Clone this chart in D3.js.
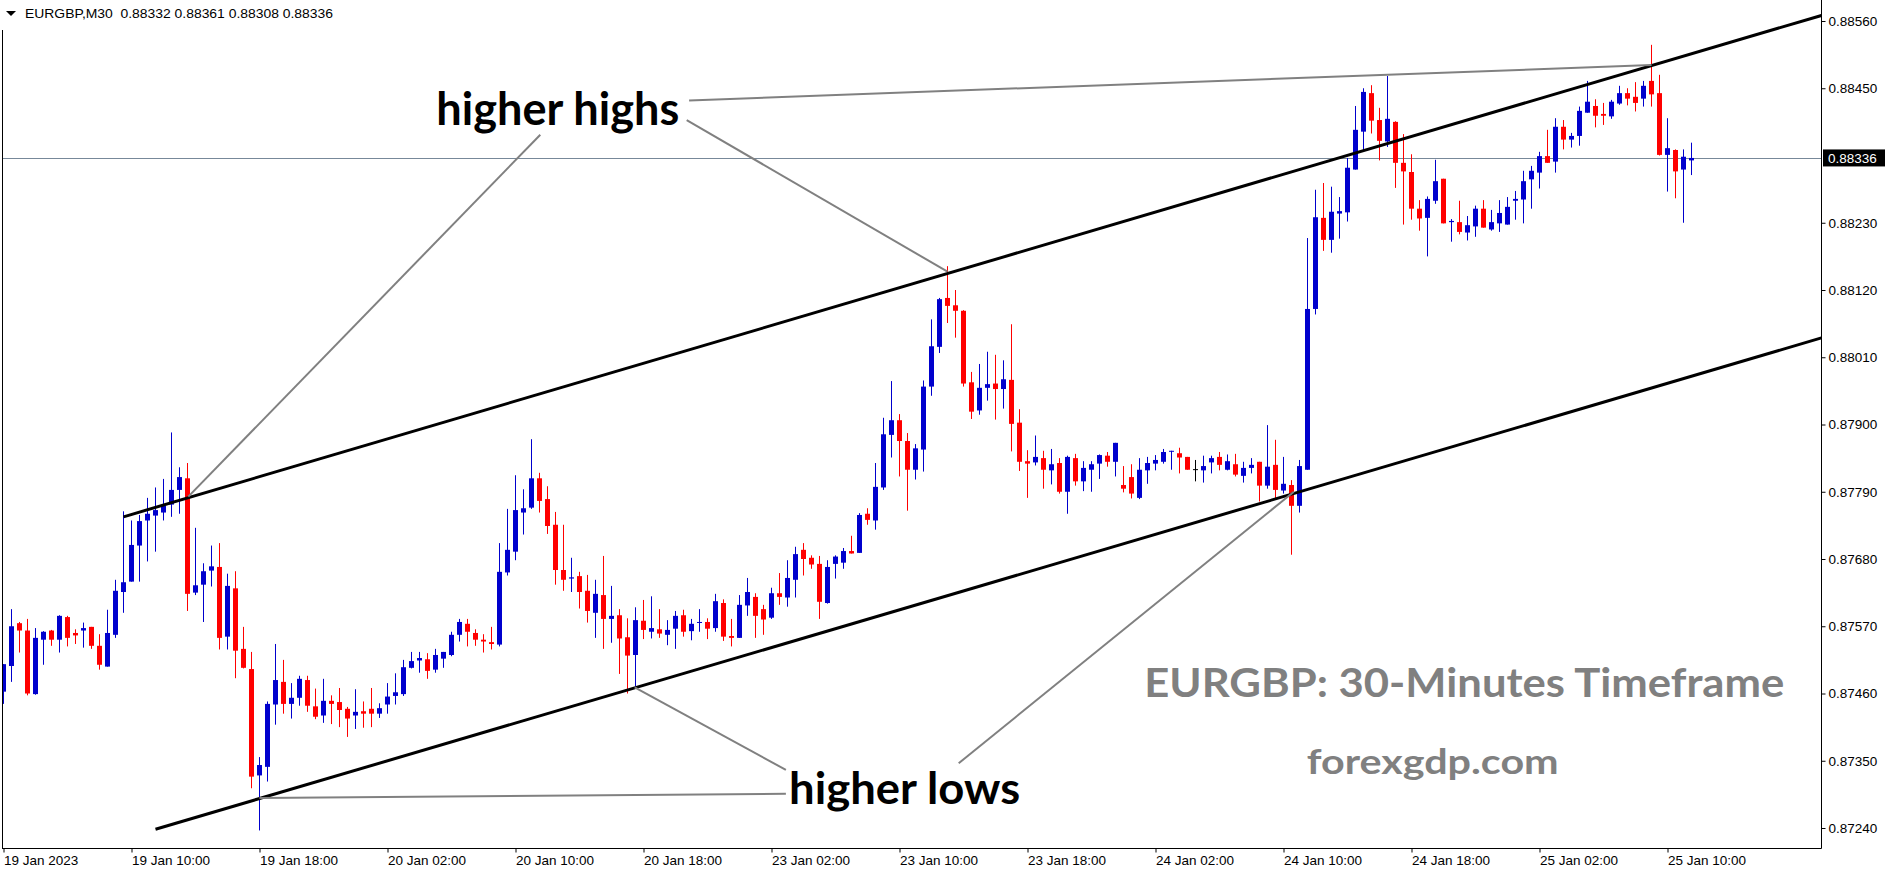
<!DOCTYPE html>
<html><head><meta charset="utf-8">
<script src="https://cdn.jsdelivr.net/npm/d3@7"></script>
<style>html,body{margin:0;padding:0;background:#fff;overflow:hidden}</style>
</head><body><svg id="c" width="1893" height="875"></svg>
<script>
// ---------- DATA ----------
const symbol = "EURGBP,M30";
const openP = [0.87463,0.87505,0.87575,0.87563,0.87459,0.87548,0.87563,0.87548,0.87585,0.87559,
0.87563,0.87569,0.87538,0.87504,0.87556,0.87626,0.87643,0.87702,0.87743,0.87751,
0.87756,0.87769,0.87793,0.87812,0.87625,0.87638,0.87661,0.87667,0.87553,0.87632,
0.87533,0.87500,0.87326,0.87340,0.87442,0.87479,0.87443,0.87453,0.87482,0.87439,
0.87424,0.87448,0.87446,0.87435,0.87424,0.87431,0.87435,0.87427,0.87442,0.87456,
0.87459,0.87502,0.87514,0.87516,0.87499,0.87517,0.87523,0.87556,0.87574,0.87559,
0.87548,0.87544,0.87540,0.87658,0.87692,0.87756,0.87764,0.87812,0.87778,0.87736,
0.87662,0.87648,0.87652,0.87628,0.87592,0.87621,0.87582,0.87588,0.87552,0.87523,
0.87579,0.87561,0.87565,0.87556,0.87566,0.87588,0.87562,0.87576,0.87577,0.87567,
0.87608,0.87554,0.87551,0.87604,0.87618,0.87598,0.87584,0.87624,0.87617,0.87646,
0.87695,0.87682,0.87672,0.87608,0.87672,0.87674,0.87693,0.87690,0.87754,0.87743,
0.87797,0.87883,0.87907,0.87873,0.87826,0.87859,0.87962,0.88027,0.88107,0.88095,
0.88086,0.87969,0.87923,0.87960,0.87967,0.87958,0.87973,0.87903,0.87840,0.87838,
0.87845,0.87825,0.87837,0.87790,0.87845,0.87807,0.87826,0.87836,0.87849,0.87839,
0.87801,0.87814,0.87780,0.87825,0.87836,0.87839,0.87856,0.87853,0.87847,0.87827,
0.87825,0.87838,0.87847,0.87826,0.87835,0.87816,0.87829,0.87839,0.87800,0.87834,
0.87792,0.87801,0.87767,0.87826,0.88089,0.88238,0.88202,0.88245,0.88247,0.88317,
0.88379,0.88442,0.88398,0.88363,0.88395,0.88328,0.88313,0.88253,0.88238,0.88266,
0.88302,0.88231,0.88231,0.88214,0.88224,0.88253,0.88219,0.88229,0.88227,0.88266,
0.88268,0.88301,0.88312,0.88339,0.88330,0.88387,0.88366,0.88372,0.88410,0.88421,
0.88408,0.88404,0.88425,0.88442,0.88436,0.88433,0.88462,0.88442,0.88341,0.88349,
0.88317,0.88332];
const highP = [0.87508,0.87598,0.87577,0.87582,0.87567,0.87562,0.87564,0.87588,0.87587,0.87565,
0.87576,0.87569,0.87557,0.87597,0.87646,0.87758,0.87743,0.87752,0.87780,0.87797,
0.87811,0.87887,0.87830,0.87837,0.87731,0.87673,0.87702,0.87706,0.87656,0.87660,
0.87569,0.87528,0.87356,0.87447,0.87541,0.87515,0.87477,0.87489,0.87489,0.87468,
0.87484,0.87457,0.87469,0.87438,0.87467,0.87447,0.87469,0.87444,0.87477,0.87493,
0.87515,0.87528,0.87528,0.87526,0.87533,0.87528,0.87561,0.87582,0.87582,0.87565,
0.87557,0.87569,0.87706,0.87762,0.87817,0.87794,0.87876,0.87821,0.87799,0.87757,
0.87736,0.87682,0.87659,0.87654,0.87646,0.87685,0.87636,0.87598,0.87583,0.87601,
0.87613,0.87619,0.87598,0.87580,0.87595,0.87597,0.87582,0.87598,0.87583,0.87623,
0.87614,0.87582,0.87621,0.87649,0.87624,0.87605,0.87633,0.87657,0.87678,0.87700,
0.87706,0.87686,0.87685,0.87678,0.87686,0.87698,0.87718,0.87755,0.87763,0.87837,
0.87911,0.87971,0.87917,0.87886,0.87868,0.87972,0.88072,0.88107,0.88159,0.88120,
0.88087,0.87986,0.87999,0.88019,0.88014,0.88005,0.88064,0.87925,0.87858,0.87882,
0.87857,0.87860,0.87845,0.87849,0.87852,0.87840,0.87840,0.87851,0.87855,0.87870,
0.87832,0.87835,0.87845,0.87847,0.87850,0.87860,0.87857,0.87862,0.87847,0.87842,
0.87849,0.87849,0.87855,0.87851,0.87852,0.87839,0.87845,0.87839,0.87899,0.87875,
0.87847,0.87809,0.87842,0.88205,0.88284,0.88295,0.88289,0.88272,0.88336,0.88421,
0.88450,0.88455,0.88418,0.88470,0.88396,0.88375,0.88342,0.88267,0.88273,0.88333,
0.88302,0.88236,0.88266,0.88241,0.88258,0.88267,0.88251,0.88267,0.88272,0.88282,
0.88315,0.88323,0.88346,0.88382,0.88401,0.88398,0.88377,0.88420,0.88462,0.88432,
0.88426,0.88431,0.88454,0.88450,0.88460,0.88462,0.88521,0.88472,0.88401,0.88350,
0.88350,0.88361];
const lowP = [0.87443,0.87479,0.87527,0.87457,0.87458,0.87507,0.87538,0.87527,0.87537,0.87541,
0.87535,0.87533,0.87499,0.87504,0.87551,0.87592,0.87643,0.87643,0.87676,0.87692,
0.87743,0.87749,0.87754,0.87595,0.87621,0.87577,0.87635,0.87532,0.87532,0.87485,
0.87501,0.87305,0.87236,0.87316,0.87409,0.87427,0.87419,0.87440,0.87430,0.87418,
0.87412,0.87410,0.87405,0.87389,0.87402,0.87404,0.87405,0.87420,0.87427,0.87442,
0.87456,0.87501,0.87494,0.87484,0.87494,0.87502,0.87521,0.87545,0.87537,0.87538,
0.87527,0.87532,0.87537,0.87653,0.87678,0.87720,0.87762,0.87756,0.87721,0.87638,
0.87628,0.87626,0.87599,0.87576,0.87551,0.87533,0.87543,0.87492,0.87460,0.87471,
0.87549,0.87550,0.87551,0.87539,0.87533,0.87553,0.87547,0.87561,0.87549,0.87561,
0.87546,0.87537,0.87551,0.87587,0.87551,0.87556,0.87582,0.87605,0.87602,0.87617,
0.87653,0.87664,0.87582,0.87607,0.87648,0.87664,0.87689,0.87690,0.87736,0.87728,
0.87793,0.87846,0.87815,0.87759,0.87810,0.87823,0.87947,0.88017,0.88066,0.88042,
0.87962,0.87909,0.87916,0.87939,0.87908,0.87926,0.87856,0.87824,0.87780,0.87833,
0.87795,0.87802,0.87787,0.87754,0.87800,0.87791,0.87790,0.87811,0.87831,0.87815,
0.87789,0.87779,0.87778,0.87803,0.87825,0.87836,0.87826,0.87820,0.87826,0.87807,
0.87805,0.87820,0.87825,0.87825,0.87815,0.87805,0.87820,0.87774,0.87795,0.87779,
0.87787,0.87687,0.87756,0.87826,0.88080,0.88184,0.88181,0.88204,0.88232,0.88317,
0.88349,0.88376,0.88332,0.88354,0.88287,0.88227,0.88235,0.88217,0.88175,0.88261,
0.88229,0.88199,0.88211,0.88201,0.88207,0.88222,0.88217,0.88215,0.88227,0.88235,
0.88229,0.88253,0.88286,0.88328,0.88312,0.88350,0.88353,0.88356,0.88410,0.88386,
0.88390,0.88400,0.88423,0.88422,0.88412,0.88420,0.88420,0.88340,0.88281,0.88270,
0.88230,0.88308];
const closeP = [0.87508,0.87570,0.87563,0.87460,0.87551,0.87561,0.87548,0.87587,0.87551,0.87555,
0.87567,0.87538,0.87507,0.87559,0.87628,0.87642,0.87703,0.87742,0.87754,0.87760,
0.87767,0.87793,0.87814,0.87623,0.87637,0.87660,0.87668,0.87551,0.87636,0.87530,
0.87502,0.87324,0.87343,0.87443,0.87482,0.87443,0.87453,0.87484,0.87440,0.87422,
0.87448,0.87443,0.87433,0.87419,0.87430,0.87427,0.87427,0.87436,0.87455,0.87462,
0.87503,0.87513,0.87518,0.87497,0.87523,0.87528,0.87556,0.87577,0.87561,0.87548,
0.87545,0.87541,0.87659,0.87695,0.87760,0.87763,0.87812,0.87775,0.87734,0.87662,
0.87646,0.87650,0.87626,0.87595,0.87623,0.87582,0.87587,0.87550,0.87522,0.87580,
0.87564,0.87567,0.87558,0.87564,0.87587,0.87561,0.87574,0.87577,0.87566,0.87611,
0.87553,0.87551,0.87605,0.87626,0.87587,0.87581,0.87624,0.87618,0.87649,0.87688,
0.87680,0.87671,0.87610,0.87667,0.87684,0.87693,0.87689,0.87752,0.87744,0.87798,
0.87884,0.87907,0.87873,0.87826,0.87861,0.87962,0.88028,0.88105,0.88094,0.88086,
0.87967,0.87921,0.87960,0.87966,0.87958,0.87974,0.87901,0.87839,0.87836,0.87847,
0.87826,0.87835,0.87790,0.87847,0.87807,0.87829,0.87835,0.87850,0.87839,0.87870,
0.87795,0.87787,0.87826,0.87837,0.87842,0.87855,0.87857,0.87846,0.87826,0.87827,
0.87832,0.87845,0.87834,0.87840,0.87818,0.87829,0.87834,0.87800,0.87831,0.87793,
0.87803,0.87767,0.87832,0.88089,0.88239,0.88202,0.88248,0.88249,0.88320,0.88382,
0.88444,0.88397,0.88364,0.88400,0.88328,0.88314,0.88253,0.88237,0.88269,0.88298,
0.88229,0.88233,0.88215,0.88226,0.88253,0.88222,0.88231,0.88246,0.88256,0.88269,
0.88298,0.88315,0.88339,0.88328,0.88387,0.88366,0.88372,0.88413,0.88428,0.88405,
0.88405,0.88428,0.88442,0.88433,0.88426,0.88454,0.88440,0.88341,0.88352,0.88314,
0.88338,0.88336];

const priceTicks = [0.88560,0.88450,0.88230,0.88120,0.88010,0.87900,0.87790,0.87680,0.87570,0.87460,0.87350,0.87240];
const currentPrice = 0.88336;
const timeTickBars = [0,16,32,48,64,80,96,112,128,144,160,176,192,208];
const timeLabels = ["19 Jan 2023","19 Jan 10:00","19 Jan 18:00","20 Jan 02:00","20 Jan 10:00","20 Jan 18:00",
  "23 Jan 02:00","23 Jan 10:00","23 Jan 18:00","24 Jan 02:00","24 Jan 10:00","24 Jan 18:00","25 Jan 02:00","25 Jan 10:00"];

// channel lines: [bar, price] anchors (extended as rays to the right)
const channelUpper = [[15, 0.87749],[206, 0.88487]];
const channelLower = [[19, 0.87238],[161, 0.87786]];
// annotation connectors: [bar, price] pairs
const highsConnectors = [
  [[67.1, 0.88374],[23.1, 0.87782]],
  [[85.4, 0.88398],[118.0, 0.88150]],
  [[85.7, 0.88430],[206.0, 0.88488]]
];
const lowsConnectors = [
  [[97.8, 0.87335],[78.9, 0.87470]],
  [[97.8, 0.87296],[32.0, 0.87289]],
  [[119.4, 0.87346],[161.3, 0.87790]]
];
const labelHighs = {text:"higher highs", bar:54.1, price:0.88390};
const labelLows  = {text:"higher lows",  bar:98.2, price:0.87279};
const watermark1 = {text:"EURGBP: 30-Minutes Timeframe", bar:142.6, price:0.87455};
const watermark2 = {text:"forexgdp.com", bar:162.9, price:0.87328};

// ---------- CHART ----------
const svg = d3.select("#c");
const plotR = 1821, plotB = 848;
const axisFont = "'Liberation Sans', Arial, sans-serif";
const x = d3.scaleLinear().domain([0, 227]).range([3.5, 3.5 + 8*227]);
const y = d3.scaleLinear().domain([0.87240, 0.88560]).range([828, 21]);

svg.append("clipPath").attr("id","pc").append("rect")
  .attr("x",2).attr("y",0).attr("width",plotR-2).attr("height",plotB);
const g = svg.append("g").attr("clip-path","url(#pc)");

// current price line
g.append("line").attr("x1",2).attr("x2",plotR)
  .attr("y1",Math.round(y(currentPrice))+0.5).attr("y2",Math.round(y(currentPrice))+0.5)
  .attr("stroke","#778899").attr("stroke-width",1);

// candles
const bars = d3.range(openP.length).map(i=>({i,o:openP[i],h:highP[i],l:lowP[i],c:closeP[i]}));
const col = d=> d.c>d.o ? "#0000CD" : (d.c<d.o ? "#FF0000" : "#000000");
const cg = g.append("g");
cg.selectAll("line.w").data(bars).join("line").attr("class","w")
  .attr("x1",d=>x(d.i)).attr("x2",d=>x(d.i))
  .attr("y1",d=>y(d.h)).attr("y2",d=>y(d.l))
  .attr("stroke",col).attr("stroke-width",1);
cg.selectAll("rect.b").data(bars).join("rect").attr("class","b")
  .attr("x",d=>x(d.i)-2.5).attr("width",5)
  .attr("y",d=>Math.min(y(d.o),y(d.c)))
  .attr("height",d=>Math.max(1,Math.abs(y(d.o)-y(d.c))))
  .attr("fill",col);

// channel rays
function ray(a){
  const s=(a[1][1]-a[0][1])/(a[1][0]-a[0][0]);
  const xe=x.invert(plotR+5);
  return [[a[0][0],a[0][1]],[xe,a[0][1]+s*(xe-a[0][0])]];
}
const lineGen = d3.line().x(d=>x(d[0])).y(d=>y(d[1]));
[channelUpper, channelLower].forEach(c=>{
  g.append("path").attr("d",lineGen(ray(c))).attr("fill","none")
    .attr("stroke","#000").attr("stroke-width",3);
});
// connectors
highsConnectors.concat(lowsConnectors).forEach(c=>{
  g.append("path").attr("d",lineGen(c)).attr("fill","none")
    .attr("stroke","#808080").attr("stroke-width",2);
});

// annotation texts
function label(o, size, width, color){
  g.append("text").attr("x",x(o.bar)).attr("y",y(o.price))
    .attr("font-family","Lato, 'Open Sans', sans-serif").attr("font-weight","bold")
    .attr("font-size",size).attr("fill",color)
    .attr("textLength",width).attr("lengthAdjust","spacingAndGlyphs")
    .text(o.text);
}
label(labelHighs, 45, 243, "#000");
label(labelLows, 43, 231, "#000");
label(watermark1, 40, 640, "#808080");
label(watermark2, 34, 252, "#808080");

// frame
svg.append("line").attr("x1",2.5).attr("x2",2.5).attr("y1",30).attr("y2",plotB).attr("stroke","#000");
svg.append("line").attr("x1",2).attr("x2",plotR+0.5).attr("y1",plotB+0.5).attr("y2",plotB+0.5).attr("stroke","#000");
svg.append("line").attr("x1",plotR+0.5).attr("x2",plotR+0.5).attr("y1",0).attr("y2",plotB+0.5).attr("stroke","#000");

// price axis
const ya = svg.append("g").attr("transform",`translate(${plotR+0.5},0)`)
  .call(d3.axisRight(y).tickValues(priceTicks).tickSize(4).tickPadding(3).tickFormat(d3.format(".5f")));
ya.select(".domain").remove();
ya.selectAll("text").attr("font-family",axisFont).attr("font-size",13.5).attr("fill","#000");
ya.selectAll("line").attr("stroke","#000");
// current price badge
const cp = svg.append("g").attr("transform",`translate(${plotR+2},${y(currentPrice)})`);
cp.append("rect").attr("x",0).attr("y",-8.5).attr("width",62).attr("height",17).attr("fill","#000");
cp.append("text").attr("x",5).attr("y",0).attr("dy","0.35em")
  .attr("font-family",axisFont).attr("font-size",13.5).attr("fill","#fff")
  .text(d3.format(".5f")(currentPrice));

// time axis
const xa = svg.append("g").attr("transform",`translate(0,${plotB+0.5})`)
  .call(d3.axisBottom(x).tickValues(timeTickBars).tickSize(4).tickPadding(3)
    .tickFormat((d,i)=>timeLabels[i]));
xa.select(".domain").remove();
xa.selectAll("text").attr("text-anchor","start").attr("x",0)
  .attr("font-family",axisFont).attr("font-size",13.5).attr("fill","#000");
xa.selectAll("line").attr("stroke","#000");

// header
svg.append("path").attr("d","M6,11L16,11L11,16Z").attr("fill","#000");
svg.append("text").attr("x",25).attr("y",18).style("white-space","pre")
  .attr("font-family",axisFont).attr("font-size",13.5).attr("fill","#000")
  .attr("textLength",308).attr("lengthAdjust","spacingAndGlyphs")
  .text(`${symbol}  ${openP[openP.length-1].toFixed(5)} ${highP[highP.length-1].toFixed(5)} ${lowP[lowP.length-1].toFixed(5)} ${closeP[closeP.length-1].toFixed(5)}`);
</script>
</body></html>
